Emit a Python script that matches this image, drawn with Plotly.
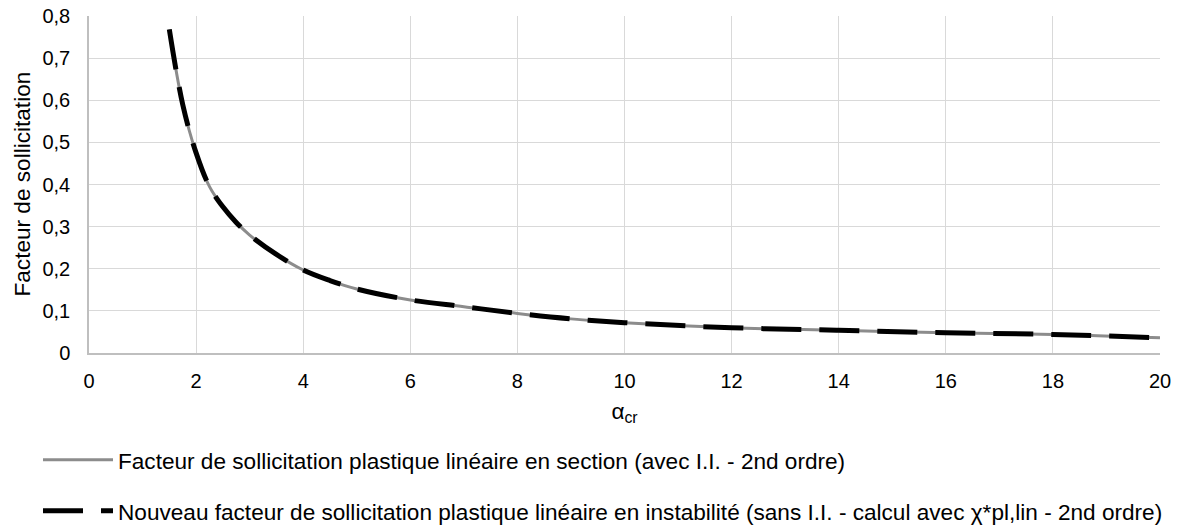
import plotly.graph_objects as go

# Data
alpha_cr = [1.5, 1.75, 2, 2.25, 2.5, 2.75, 3, 3.5, 4, 4.5, 5, 6, 7, 8, 9, 10, 12, 14, 16, 18, 20]
facteur_section = [0.768, 0.59, 0.475, 0.395, 0.347, 0.31, 0.28, 0.234, 0.197, 0.172, 0.152,
                   0.126, 0.110, 0.094, 0.081, 0.072, 0.060, 0.054, 0.048, 0.044, 0.036]
facteur_instabilite = [0.768, 0.59, 0.475, 0.395, 0.347, 0.31, 0.28, 0.234, 0.197, 0.172, 0.152,
                       0.126, 0.110, 0.094, 0.081, 0.072, 0.060, 0.054, 0.048, 0.044, 0.036]

name_section = "Facteur de sollicitation plastique linéaire en section (avec I.I. - 2nd ordre)"
name_instab = ("Nouveau facteur de sollicitation plastique linéaire en instabilité "
               "(sans I.I. - calcul avec χ*pl,lin - 2nd ordre)")
y_title = "Facteur de sollicitation"
x_title = "α<sub>cr</sub>"

y_ticks = [0, 0.1, 0.2, 0.3, 0.4, 0.5, 0.6, 0.7, 0.8]
x_ticks = [0, 2, 4, 6, 8, 10, 12, 14, 16, 18, 20]

FONT = "Liberation Sans, Arial, sans-serif"
FS_TICK = 20
FS_TEXT = 22.6
W, H = 1178, 527
ML, MR, MT, MB = 89, 18, 16, 174
PW = W - ML - MR

fig = go.Figure()
fig.add_trace(go.Scatter(
    x=alpha_cr, y=facteur_section, mode="lines", name=name_section,
    line=dict(color="#8c8c8c", width=3), legend="legend", line_shape="spline"))
fig.add_trace(go.Scatter(
    x=alpha_cr, y=facteur_instabilite, mode="lines", name=name_instab,
    line=dict(color="#000000", width=5, dash="40px,18px"), legend="legend2",
    line_shape="spline"))

legend_common = dict(
    xref="container", yref="container",
    xanchor="left", yanchor="middle", x=38 / W,
    itemwidth=70,
    font=dict(family=FONT, size=FS_TEXT, color="#000000"),
    bgcolor="rgba(0,0,0,0)", borderwidth=0,
)

fig.update_layout(
    width=W, height=H,
    margin=dict(l=ML, r=MR, t=MT, b=MB, autoexpand=False),
    paper_bgcolor="white", plot_bgcolor="white",
    separators=", ",
    font=dict(family=FONT, size=FS_TEXT, color="#000000"),
    showlegend=True,
    legend=dict(y=1 - 460 / H, **legend_common),
    legend2=dict(y=1 - 511 / H, **legend_common),
    xaxis=dict(
        range=[0, 20], tickvals=x_ticks, showgrid=True, gridcolor="#d9d9d9", gridwidth=1.3,
        showline=True, linecolor="#bfbfbf", linewidth=1.5, zeroline=False,
        ticks="", ticklabelstandoff=9, automargin=True,
        tickfont=dict(family=FONT, size=FS_TICK, color="#000000"),
        title=dict(text=x_title, font=dict(family=FONT, size=FS_TEXT, color="#000000"),
                   standoff=12),
    ),
    yaxis=dict(
        range=[0, 0.8], tickvals=y_ticks, showgrid=True, gridcolor="#d9d9d9", gridwidth=1.3,
        showline=True, linecolor="#bfbfbf", linewidth=1.5, zeroline=False,
        ticks="", ticklabelstandoff=13, automargin=False,
        tickfont=dict(family=FONT, size=FS_TICK, color="#000000"),
    ),
    annotations=[dict(
        text=y_title, textangle=-90, showarrow=False,
        xref="paper", yref="paper", x=(22 - ML) / PW, y=0.5,
        xanchor="center", yanchor="middle",
        font=dict(family=FONT, size=FS_TEXT, color="#000000"),
    )],
)

fig.write_html(
    "out.html",
    config={"displayModeBar": False},
    post_script="document.body.style.margin='0px';document.body.style.overflow='hidden';",
)
